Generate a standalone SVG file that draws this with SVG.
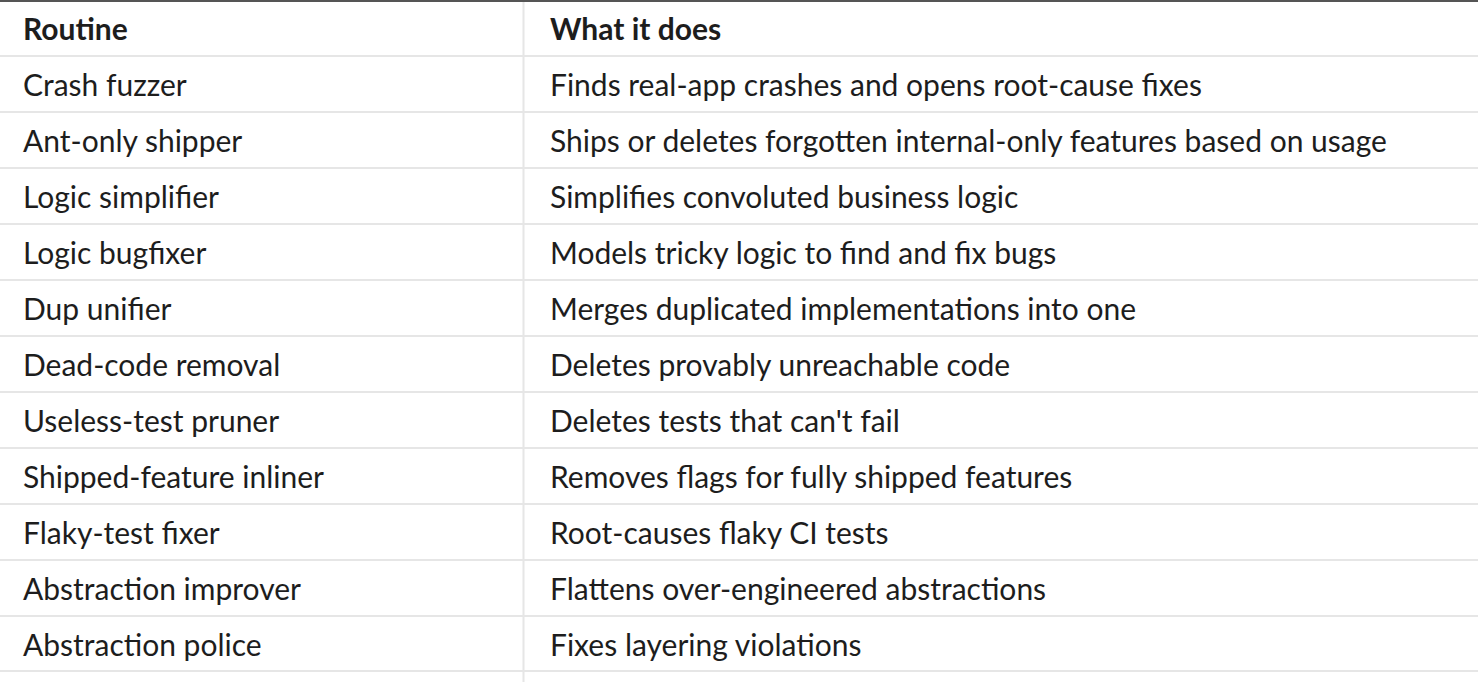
<svg xmlns="http://www.w3.org/2000/svg" width="1478" height="682" viewBox="0 0 1478 682">
<style>
text{font-family:Lato,"Noto Sans",sans-serif;font-size:30px;fill:#1d1d1d}
.h{font-weight:bold}
.g{stroke:#e6e6e6;stroke-width:2;fill:none}
</style>
<rect width="1478" height="682" fill="#ffffff"/>
<g id="grid">
<line class="g" x1="523.5" y1="2" x2="523.5" y2="682"/>
<line class="g" x1="0" y1="56" x2="1478" y2="56"/>
<line class="g" x1="0" y1="112" x2="1478" y2="112"/>
<line class="g" x1="0" y1="168" x2="1478" y2="168"/>
<line class="g" x1="0" y1="224" x2="1478" y2="224"/>
<line class="g" x1="0" y1="280" x2="1478" y2="280"/>
<line class="g" x1="0" y1="336" x2="1478" y2="336"/>
<line class="g" x1="0" y1="392" x2="1478" y2="392"/>
<line class="g" x1="0" y1="448" x2="1478" y2="448"/>
<line class="g" x1="0" y1="504" x2="1478" y2="504"/>
<line class="g" x1="0" y1="560" x2="1478" y2="560"/>
<line class="g" x1="0" y1="616" x2="1478" y2="616"/>
<line class="g" x1="0" y1="671" x2="1478" y2="671"/>
<line x1="0" y1="1" x2="1478" y2="1" stroke="#555" stroke-width="2"/>
</g>
<g id="header">
<text class="h" x="23" y="40">Routine</text>
<text class="h" x="550" y="40">What it does</text>
</g>
<g id="rows">
<text x="23" y="96">Crash fuzzer</text><text x="550" y="96">Finds real-app crashes and opens root-cause fixes</text>
<text x="23" y="152">Ant-only shipper</text><text x="550" y="152">Ships or deletes forgotten internal-only features based on usage</text>
<text x="23" y="208">Logic simplifier</text><text x="550" y="208">Simplifies convoluted business logic</text>
<text x="23" y="264">Logic bugfixer</text><text x="550" y="264">Models tricky logic to find and fix bugs</text>
<text x="23" y="320">Dup unifier</text><text x="550" y="320">Merges duplicated implementations into one</text>
<text x="23" y="376">Dead-code removal</text><text x="550" y="376">Deletes provably unreachable code</text>
<text x="23" y="432">Useless-test pruner</text><text x="550" y="432">Deletes tests that can't fail</text>
<text x="23" y="488">Shipped-feature inliner</text><text x="550" y="488">Removes flags for fully shipped features</text>
<text x="23" y="544">Flaky-test fixer</text><text x="550" y="544">Root-causes flaky CI tests</text>
<text x="23" y="600">Abstraction improver</text><text x="550" y="600">Flattens over-engineered abstractions</text>
<text x="23" y="656">Abstraction police</text><text x="550" y="656">Fixes layering violations</text>
</g>
</svg>
